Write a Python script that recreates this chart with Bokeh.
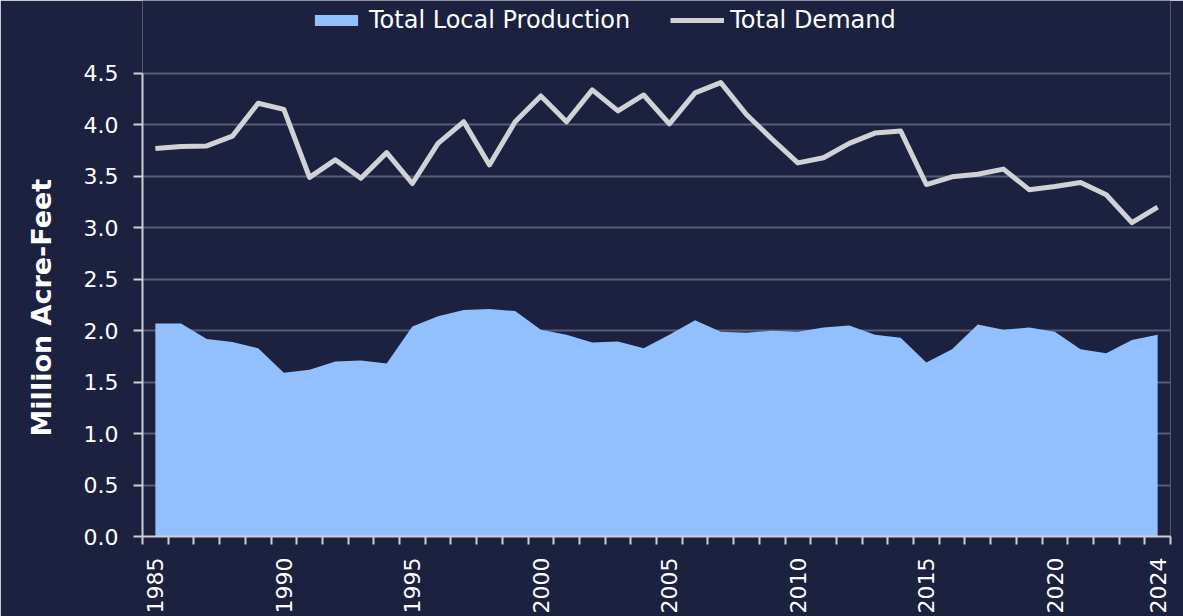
import math
from bokeh.plotting import figure
from bokeh.models import (Range1d, FixedTicker, NumeralTickFormatter, Legend,
                          LegendItem, Title)
from bokeh.embed import file_html
from bokeh.resources import INLINE

years = list(range(1985, 2025))
production = [2.07, 2.07, 1.92, 1.89, 1.83, 1.59, 1.62, 1.70, 1.71, 1.68,
              2.04, 2.14, 2.20, 2.21, 2.19, 2.01, 1.96, 1.885, 1.895, 1.83,
              1.96, 2.10, 1.99, 1.98, 2.00, 1.99, 2.03, 2.05, 1.96, 1.93,
              1.69, 1.82, 2.06, 2.01, 2.03, 1.99, 1.82, 1.78, 1.91, 1.96]
demand = [3.77, 3.79, 3.795, 3.89, 4.21, 4.15, 3.49, 3.66, 3.48, 3.73,
          3.43, 3.82, 4.03, 3.61, 4.03, 4.28, 4.03, 4.34, 4.135, 4.29,
          4.01, 4.31, 4.41, 4.10, 3.86, 3.63, 3.68, 3.82, 3.92, 3.94,
          3.42, 3.495, 3.52, 3.57, 3.37, 3.40, 3.44, 3.32, 3.05, 3.20]
x_tick_labels = [1985, 1990, 1995, 2000, 2005, 2010, 2015, 2020, 2024]
y_ticks = [0.0, 0.5, 1.0, 1.5, 2.0, 2.5, 3.0, 3.5, 4.0, 4.5]

BG = "#1c2140"
FILL = "#92c0ff"
LINE = "#d0d2d6"
GRID = "#585c76"
AXIS = "#cfd0d4"
FONT = "DejaVu Sans"

# frame spans the full top of the page; headroom above 4.5 holds the legend
p = figure(width=1183, height=616, output_backend="svg", toolbar_location=None,
           x_range=Range1d(years[0] - 0.5, years[-1] + 0.5),
           y_range=Range1d(0, 4.5 + 73 / 103.1),
           min_border_left=141, min_border_right=13,
           min_border_top=0, min_border_bottom=79)
p.background_fill_color = BG
p.border_fill_color = BG
p.outline_line_color = None

area = p.varea(x=years, y1=[0] * len(years), y2=production, fill_color=FILL)
ln = p.line(x=years, y=demand, line_color=LINE, line_width=5, line_join="round")

# x axis
p.xaxis.ticker = FixedTicker(ticks=x_tick_labels,
                             minor_ticks=[y - 0.5 for y in years] + [years[-1] + 0.5])
p.xaxis.major_tick_line_color = None
p.xaxis.major_tick_out = 0
p.xaxis.major_tick_in = 0
p.xaxis.minor_tick_out = 8
p.xaxis.minor_tick_in = 0
p.xaxis.minor_tick_line_color = AXIS
p.xaxis.minor_tick_line_width = 2
p.xaxis.axis_line_color = AXIS
p.xaxis.axis_line_width = 2
p.xaxis.major_label_orientation = math.pi / 2
p.xaxis.major_label_standoff = 13
p.xaxis.major_label_text_font = FONT
p.xaxis.major_label_text_font_size = "22px"
p.xaxis.major_label_text_color = "#ffffff"
p.xgrid.grid_line_color = None

# y axis
p.yaxis.ticker = FixedTicker(ticks=y_ticks)
p.yaxis.bounds = (0, 4.5)
p.yaxis.formatter = NumeralTickFormatter(format="0.0")
p.yaxis.minor_tick_line_color = None
p.yaxis.major_tick_out = 9
p.yaxis.major_tick_in = 0
p.yaxis.major_tick_line_color = AXIS
p.yaxis.major_tick_line_width = 2
p.yaxis.axis_line_color = AXIS
p.yaxis.axis_line_width = 2
p.yaxis.major_label_standoff = 15
p.yaxis.major_label_text_font = FONT
p.yaxis.major_label_text_font_size = "22px"
p.yaxis.major_label_text_color = "#ffffff"
p.ygrid.grid_line_color = GRID
p.ygrid.grid_line_width = 2

ytitle = Title(text="Million Acre-Feet", align="left", offset=100,
               text_font=FONT, text_font_size="27px", text_font_style="bold",
               text_color="#ffffff", standoff=47)
p.add_layout(ytitle, "left")

legend = Legend(items=[LegendItem(label="Total Local Production", renderers=[area]),
                       LegendItem(label="Total Demand", renderers=[ln])],
                orientation="horizontal", location=(167, 502),
                margin=0, padding=0, spacing=40,
                glyph_width=54, glyph_height=14, label_standoff=6,
                label_text_font=FONT, label_text_font_size="24px",
                label_text_color="#ffffff",
                background_fill_alpha=0, border_line_alpha=0)
p.add_layout(legend, "center")

open("out.html", "w").write(file_html(p, INLINE))
